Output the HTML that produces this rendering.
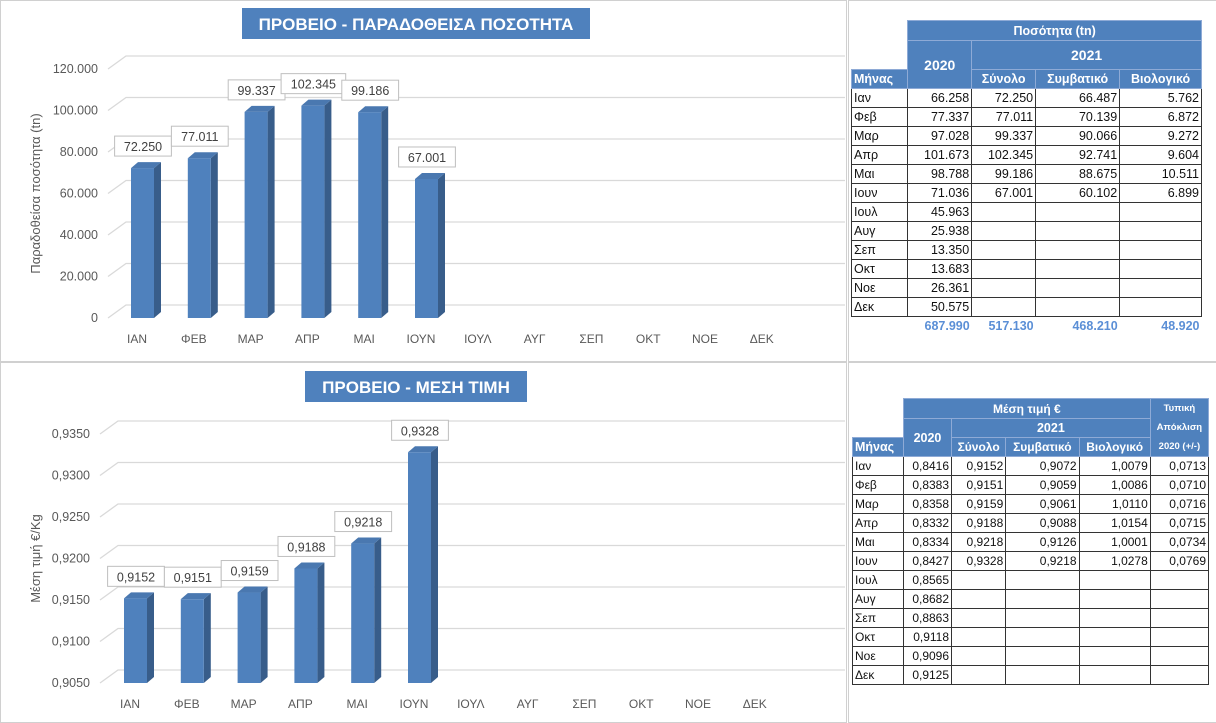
<!DOCTYPE html>
<html><head><meta charset="utf-8"><style>
body{margin:0;width:1216px;height:722px;background:#fff;font-family:"Liberation Sans",sans-serif;position:relative;overflow:hidden}
.panel{position:absolute;border:1px solid #d0d0d0;background:#fff}
table{position:absolute;border-collapse:collapse;font-family:"Liberation Sans",sans-serif;font-size:12.5px}
td{border:1px solid #333;padding:0 2px;text-align:right;white-space:nowrap;height:18px;color:#111}
td.m{text-align:left}
th{background:#4f81bd;color:#fff;font-weight:bold;border:1px solid #8eaad6;white-space:nowrap;font-size:12.5px;padding:0 2px}
td.tot{border:none;color:#5b8fd6;font-weight:bold;text-align:right}
</style></head><body>
<div class="panel" style="left:0;top:0;width:845px;height:360px"></div>
<div class="panel" style="left:0;top:362px;width:845px;height:359px"></div>
<div class="panel" style="left:848px;top:0;width:367px;height:360px"></div>
<div class="panel" style="left:848px;top:362px;width:367px;height:359px"></div>
<svg id="c" width="845" height="722" style="position:absolute;left:0;top:0"></svg>

<table style="left:851px;top:20px;width:351px">
<tr><td style="border:none"></td><th colspan="4" style="height:19px">Ποσότητα (tn)</th></tr>
<tr><td style="border:none"></td><th rowspan="2" style="font-size:14px">2020</th><th colspan="3" style="height:28px;font-size:14px">2021</th></tr>
<tr><th style="text-align:left;height:18px">Μήνας</th><th>Σύνολο</th><th>Συμβατικό</th><th>Βιολογικό</th></tr>
<tr><td class="m">Ιαν</td><td>66.258</td><td>72.250</td><td>66.487</td><td>5.762</td></tr>
<tr><td class="m">Φεβ</td><td>77.337</td><td>77.011</td><td>70.139</td><td>6.872</td></tr>
<tr><td class="m">Μαρ</td><td>97.028</td><td>99.337</td><td>90.066</td><td>9.272</td></tr>
<tr><td class="m">Απρ</td><td>101.673</td><td>102.345</td><td>92.741</td><td>9.604</td></tr>
<tr><td class="m">Μαι</td><td>98.788</td><td>99.186</td><td>88.675</td><td>10.511</td></tr>
<tr><td class="m">Ιουν</td><td>71.036</td><td>67.001</td><td>60.102</td><td>6.899</td></tr>
<tr><td class="m">Ιουλ</td><td>45.963</td><td></td><td></td><td></td></tr>
<tr><td class="m">Αυγ</td><td>25.938</td><td></td><td></td><td></td></tr>
<tr><td class="m">Σεπ</td><td>13.350</td><td></td><td></td><td></td></tr>
<tr><td class="m">Οκτ</td><td>13.683</td><td></td><td></td><td></td></tr>
<tr><td class="m">Νοε</td><td>26.361</td><td></td><td></td><td></td></tr>
<tr><td class="m">Δεκ</td><td>50.575</td><td></td><td></td><td></td></tr>
<tr><td class="tot"></td><td class="tot">687.990</td><td class="tot">517.130</td><td class="tot">468.210</td><td class="tot">48.920</td></tr>
</table>

<table style="left:852px;top:398px;width:357px;font-size:12px">
<tr><td style="border:none"></td><th colspan="4" style="height:19px;font-size:12px">Μέση τιμή €</th><th rowspan="3" style="font-size:9.5px;line-height:19px">Τυπική<br>Απόκλιση<br>2020 (+/-)</th></tr>
<tr><td style="border:none"></td><th rowspan="2">2020</th><th colspan="3" style="height:18px">2021</th></tr>
<tr><th style="text-align:left;height:18px">Μήνας</th><th style="font-size:12px">Σύνολο</th><th style="font-size:12px">Συμβατικό</th><th style="font-size:12px">Βιολογικό</th></tr>
<tr><td class="m">Ιαν</td><td>0,8416</td><td>0,9152</td><td>0,9072</td><td>1,0079</td><td>0,0713</td></tr>
<tr><td class="m">Φεβ</td><td>0,8383</td><td>0,9151</td><td>0,9059</td><td>1,0086</td><td>0,0710</td></tr>
<tr><td class="m">Μαρ</td><td>0,8358</td><td>0,9159</td><td>0,9061</td><td>1,0110</td><td>0,0716</td></tr>
<tr><td class="m">Απρ</td><td>0,8332</td><td>0,9188</td><td>0,9088</td><td>1,0154</td><td>0,0715</td></tr>
<tr><td class="m">Μαι</td><td>0,8334</td><td>0,9218</td><td>0,9126</td><td>1,0001</td><td>0,0734</td></tr>
<tr><td class="m">Ιουν</td><td>0,8427</td><td>0,9328</td><td>0,9218</td><td>1,0278</td><td>0,0769</td></tr>
<tr><td class="m">Ιουλ</td><td>0,8565</td><td></td><td></td><td></td><td></td></tr>
<tr><td class="m">Αυγ</td><td>0,8682</td><td></td><td></td><td></td><td></td></tr>
<tr><td class="m">Σεπ</td><td>0,8863</td><td></td><td></td><td></td><td></td></tr>
<tr><td class="m">Οκτ</td><td>0,9118</td><td></td><td></td><td></td><td></td></tr>
<tr><td class="m">Νοε</td><td>0,9096</td><td></td><td></td><td></td><td></td></tr>
<tr><td class="m">Δεκ</td><td>0,9125</td><td></td><td></td><td></td><td></td></tr>
</table>

<script>
const categories = ["ΙΑΝ","ΦΕΒ","ΜΑΡ","ΑΠΡ","ΜΑΙ","ΙΟΥΝ","ΙΟΥΛ","ΑΥΓ","ΣΕΠ","ΟΚΤ","ΝΟΕ","ΔΕΚ"];
const quantityValues = [72250, 77011, 99337, 102345, 99186, 67001];
const quantityLabels = ["72.250","77.011","99.337","102.345","99.186","67.001"];
const quantityTicks = [0, 20000, 40000, 60000, 80000, 100000, 120000];
const quantityTickLabels = ["0","20.000","40.000","60.000","80.000","100.000","120.000"];
const priceValues = [0.9152, 0.9151, 0.9159, 0.9188, 0.9218, 0.9328];
const priceLabels = ["0,9152","0,9151","0,9159","0,9188","0,9218","0,9328"];
const priceTicks = [0.905, 0.91, 0.915, 0.92, 0.925, 0.93, 0.935];
const priceTickLabels = ["0,9050","0,9100","0,9150","0,9200","0,9250","0,9300","0,9350"];

const svg = document.getElementById('c');
const NS = 'http://www.w3.org/2000/svg';
function mk(tag, attrs, name, text){
  const e = document.createElementNS(NS, tag);
  for (const k in attrs) e.setAttribute(k, attrs[k]);
  
  
  if (text !== undefined) e.textContent = text;
  svg.appendChild(e); return e;
}
function chart(o){
  const y = v => o.base - (v - o.min) / (o.max - o.min) * o.h;
  const x = i => o.x0 + i * 56.8;
  // title
  mk('rect', {x:o.tx, y:o.ty, width:o.tw, height:31, fill:'#4f81bd'}, 'chart-title-box');
  mk('text', {x:o.tx+o.tw/2, y:o.ty+22, 'text-anchor':'middle', fill:'#fff', 'font-size':17, 'font-weight':'bold'}, 'chart-title', o.title);
  o.ticks.forEach((t,i)=>{
    const yy = y(t);
    mk('polyline', {points:`${o.gx0},${yy} ${o.gx0+18},${yy-13} 845,${yy-13}`, fill:'none', stroke:'#d9d9d9', 'stroke-width':1.3}, 'gridline');
    mk('text', {x:o.gx0-10, y:yy+4, 'text-anchor':'end', fill:'#595959', 'font-size':12.5}, 'y-tick-label', o.tickLabels[i]);
  });
  categories.forEach((c,i)=>{
    mk('text', {x:x(i), y:o.base+25, 'text-anchor':'middle', fill:'#595959', 'font-size':12}, 'x-tick-label', c);
  });
  o.values.forEach((v,i)=>{
    const l = x(i)-6, r = x(i)+17, top = y(v);
    mk('polygon', {points:`${r},${top} ${r+7},${top-6} ${r+7},${o.base-6} ${r},${o.base}`, fill:'#385d8a'}, 'bar-side');
    mk('polygon', {points:`${l},${top} ${l+7},${top-6} ${r+7},${top-6} ${r},${top}`, fill:'#4a78b0'}, 'bar-top');
    mk('rect', {x:l, y:top, width:23, height:o.base-top, fill:'#4f81bd'}, 'bar-' + categories[i].toLowerCase());
    const lw = o.labels[i].length*7.8+10;
    mk('rect', {x:x(i)+6-lw/2, y:top-32, width:lw, height:20, fill:'#fff', stroke:'#bfbfbf'}, 'data-label-box');
    mk('text', {x:x(i)+6, y:top-17, 'text-anchor':'middle', fill:'#404040', 'font-size':12.5}, 'data-label', o.labels[i]);
  });
  const cy = o.base - o.h/2;
  mk('text', {x:40, y:cy, 'text-anchor':'middle', fill:'#595959', 'font-size':13, transform:`rotate(-90 40 ${cy})`}, 'y-axis-title', o.ytitle);
}
chart({title:'ΠΡΟΒΕΙΟ - ΠΑΡΑΔΟΘΕΙΣΑ ΠΟΣΟΤΗΤΑ', tx:242, ty:8, tw:348, values:quantityValues, labels:quantityLabels,
  ticks:quantityTicks, tickLabels:quantityTickLabels, min:0, max:120000, base:318, h:249, x0:137, gx0:108,
  ytitle:'Παραδοθείσα ποσότητα (tn)'});
chart({title:'ΠΡΟΒΕΙΟ - ΜΕΣΗ ΤΙΜΗ', tx:305, ty:371, tw:222, values:priceValues, labels:priceLabels,
  ticks:priceTicks, tickLabels:priceTickLabels, min:0.905, max:0.935, base:683, h:249, x0:130, gx0:100,
  ytitle:'Μέση τιμή €/Kg'});
</script>
</body></html>
